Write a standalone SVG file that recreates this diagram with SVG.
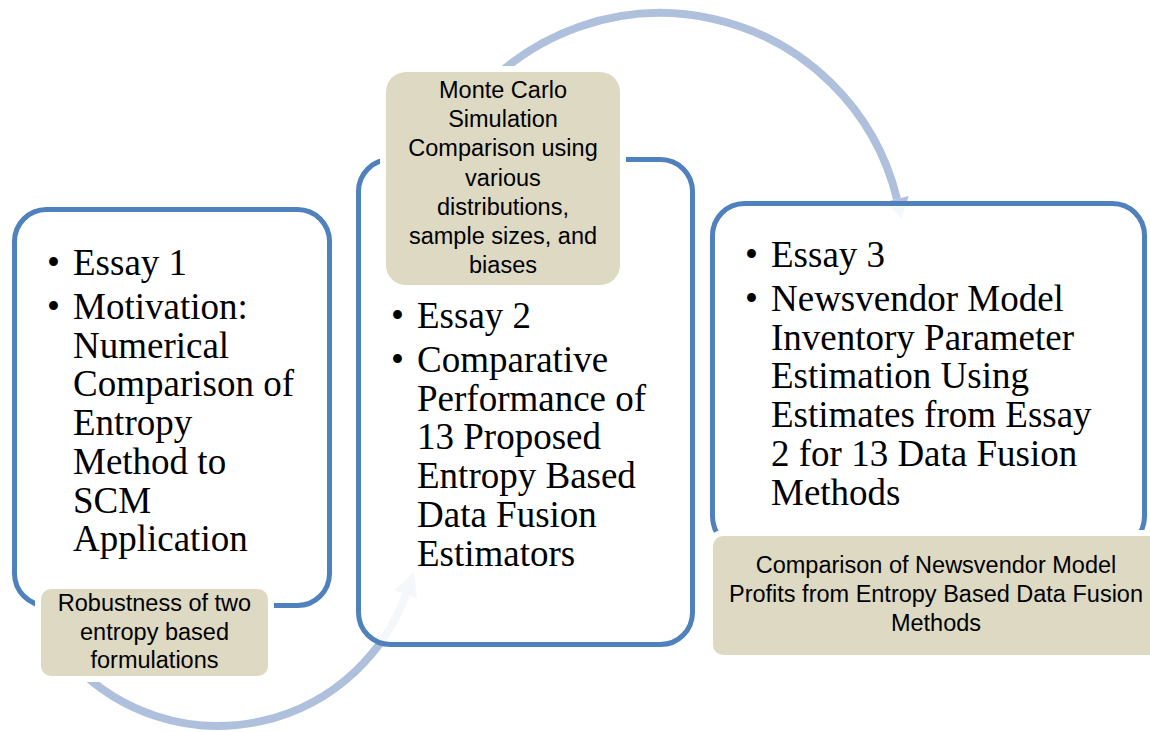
<svg xmlns="http://www.w3.org/2000/svg" width="1150" height="732" viewBox="0 0 1150 732">
  <style>
    .arc { fill: none; stroke: #AFC0DD; stroke-width: 8; }
    .head { fill: #AFC0DD; }
    .essay { fill: #FFFFFF; fill-opacity: 0.88; stroke: #4F81BD; stroke-width: 5; }
    .note { fill: #DDD9C3; stroke: #FFFFFF; stroke-width: 12; paint-order: stroke; }
    .big { font-family: "Liberation Serif", "Times New Roman", serif; font-size: 37px; fill: #000000; }
    .small { font-family: "Liberation Sans", Arial, sans-serif; font-size: 23.5px; fill: #000000; text-anchor: middle; }
  </style>
  <rect x="0" y="0" width="1150" height="732" fill="#FFFFFF"/>
  <g id="connectors">
    <path class="arc" d="M 470 103.9 A 244 244 0 0 1 897 199"/>
    <polygon class="head" points="885.3,201.9 908.7,196.1 901.5,218.5"/>
    <path class="arc" d="M 76.6 667.4 A 200 200 0 0 0 405.9 594.4"/>
    <polygon class="head" points="417.2,598.5 394.6,590.3 413.8,571.5"/>
  </g>
  <g id="essay1">
    <rect class="essay" x="14.5" y="209.5" width="315" height="396" rx="32"/>
    <text class="big" x="47" y="275">•</text>
    <text class="big" x="73" y="275">Essay 1</text>
    <text class="big" x="47" y="319">•</text>
    <text class="big"><tspan x="73" y="319">Motivation:</tspan><tspan x="73" y="357.7">Numerical</tspan><tspan x="73" y="396.4">Comparison of</tspan><tspan x="73" y="435.1">Entropy</tspan><tspan x="73" y="473.8">Method to</tspan><tspan x="73" y="512.5">SCM</tspan><tspan x="73" y="551.2">Application</tspan></text>
  </g>
  <g id="essay2">
    <rect class="essay" x="358.5" y="159.5" width="334" height="485" rx="32"/>
    <text class="big" x="391" y="328">•</text>
    <text class="big" x="417" y="328">Essay 2</text>
    <text class="big" x="391" y="372">•</text>
    <text class="big"><tspan x="417" y="372">Comparative</tspan><tspan x="417" y="410.7">Performance of</tspan><tspan x="417" y="449.4">13 Proposed</tspan><tspan x="417" y="488.1">Entropy Based</tspan><tspan x="417" y="526.8">Data Fusion</tspan><tspan x="417" y="565.5">Estimators</tspan></text>
  </g>
  <g id="essay3">
    <rect class="essay" x="712.5" y="203.5" width="432" height="345" rx="32"/>
    <text class="big" x="745" y="267">•</text>
    <text class="big" x="771" y="267">Essay 3</text>
    <text class="big" x="745" y="311">•</text>
    <text class="big"><tspan x="771" y="311">Newsvendor Model</tspan><tspan x="771" y="349.7">Inventory Parameter</tspan><tspan x="771" y="388.4">Estimation Using</tspan><tspan x="771" y="427.1">Estimates from Essay</tspan><tspan x="771" y="465.8">2 for 13 Data Fusion</tspan><tspan x="771" y="504.5">Methods</tspan></text>
  </g>
  <g id="note1">
    <rect class="note" x="41" y="589" width="227" height="87" rx="10"/>
    <text class="small"><tspan x="154.5" y="611">Robustness of two</tspan><tspan x="154.5" y="640">entropy based</tspan><tspan x="154.5" y="668">formulations</tspan></text>
  </g>
  <g id="note2">
    <rect class="note" x="386" y="72" width="234" height="213" rx="20"/>
    <text class="small"><tspan x="503" y="98">Monte Carlo</tspan><tspan x="503" y="127.2">Simulation</tspan><tspan x="503" y="156.4">Comparison using</tspan><tspan x="503" y="185.6">various</tspan><tspan x="503" y="214.8">distributions,</tspan><tspan x="503" y="244">sample sizes, and</tspan><tspan x="503" y="273.2">biases</tspan></text>
  </g>
  <g id="note3">
    <rect class="note" x="713" y="536" width="446" height="119" rx="10"/>
    <text class="small"><tspan x="936" y="573">Comparison of Newsvendor Model</tspan><tspan x="936" y="602">Profits from Entropy Based Data Fusion</tspan><tspan x="936" y="631">Methods</tspan></text>
  </g>
</svg>
